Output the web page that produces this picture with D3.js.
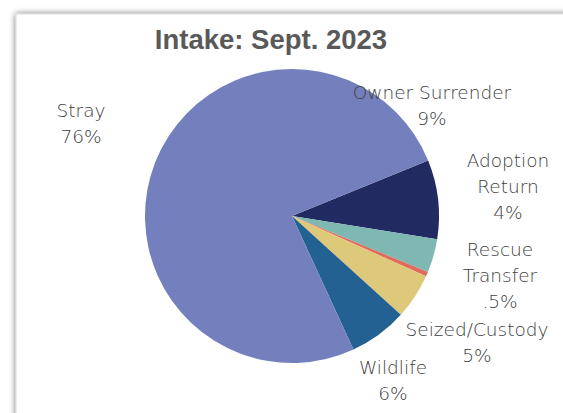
<!DOCTYPE html>
<html>
<head>
<meta charset="utf-8">
<script src="https://cdn.jsdelivr.net/npm/d3@7"></script>
<style>
  body { margin: 0; background: #fff; }
  svg { display: block; }
</style>
</head>
<body>
<svg id="chart"></svg>
<script>
// slice data, in drawing order (clockwise)
var categories = ['Owner Surrender', 'Adoption Return', 'Rescue Transfer', 'Seized/Custody', 'Wildlife', 'Stray'];
var values = [8.7, 3.7, 0.5, 5.0, 6.4, 75.7];
var pctLabels = ['9%', '4%', '.5%', '5%', '6%', '76%'];
// label text lines per slice
var labelLines = [
  ['Owner Surrender', '9%'],
  ['Adoption', 'Return', '4%'],
  ['Rescue', 'Transfer', '.5%'],
  ['Seized/Custody', '5%'],
  ['Wildlife', '6%'],
  ['Stray', '76%']
];

var colors = ['#222b61', '#7fb8b2', '#e06a5c', '#dec97b', '#236193', '#7480bd'];
// label block centre, offset from pie centre (px)
var labelOffset = [[140, -110], [216, -29], [208, 60], [185, 127], [101, 165], [-211, -92]];

var W = 563, H = 413;
var cx = 292, cy = 216, radius = 147;

var svg = d3.select('#chart')
    .attr('width', W)
    .attr('height', H);

// chart frame with soft shadow
var defs = svg.append('defs');
var f = defs.append('filter').attr('id', 'shadow')
    .attr('x', '-5%').attr('y', '-5%').attr('width', '110%').attr('height', '110%');
f.append('feGaussianBlur').attr('in', 'SourceAlpha').attr('stdDeviation', 3);
f.append('feComponentTransfer').append('feFuncA').attr('type', 'linear').attr('slope', 0.55);
var m = f.append('feMerge');
m.append('feMergeNode');
m.append('feMergeNode').attr('in', 'SourceGraphic');

svg.append('rect')
    .attr('x', 16).attr('y', 14)
    .attr('width', W + 20).attr('height', H + 20)
    .attr('fill', '#fff')
    .attr('stroke', '#d9d9d9')
    .attr('stroke-width', 1)
    .attr('filter', 'url(#shadow)');

// title
svg.append('text')
    .attr('x', 271)
    .attr('y', 49)
    .attr('text-anchor', 'middle')
    .style('font-family', 'Liberation Sans, Arial, sans-serif')
    .style('font-weight', 'bold')
    .style('font-size', '27.5px')
    .attr('fill', '#595959')
    .text('Intake: Sept. 2023');

var startDeg = 67.8;
var pie = d3.pie()
    .sort(null)
    .value(d => d)
    .startAngle(startDeg * Math.PI / 180)
    .endAngle((startDeg + 360) * Math.PI / 180);

var arc = d3.arc().innerRadius(0).outerRadius(radius);

var g = svg.append('g').attr('transform', 'translate(' + cx + ',' + cy + ')');

g.selectAll('path')
  .data(pie(values))
  .enter()
  .append('path')
    .attr('d', arc)
    .attr('fill', (d, i) => colors[i]);

// data labels
var lineH = 26;
var lab = g.selectAll('text.lab')
  .data(labelLines)
  .enter()
  .append('text')
    .attr('class', 'lab')
    .attr('text-anchor', 'middle')
    .style('font-family', 'DejaVu Sans, sans-serif')
    .style('font-weight', '300')
    .style('font-size', '18.5px')
    .attr('fill', '#404040')
    .attr('transform', (d, i) => 'translate(' + labelOffset[i][0] + ',' + labelOffset[i][1] + ')');

lab.selectAll('tspan')
  .data(d => d.map((t, j) => ({t: t, j: j, n: d.length})))
  .enter()
  .append('tspan')
    .attr('x', 0)
    .attr('y', d => (d.j - (d.n - 1) / 2) * lineH)
    .attr('dy', '0.35em')
    .text(d => d.t);
</script>
</body>
</html>
